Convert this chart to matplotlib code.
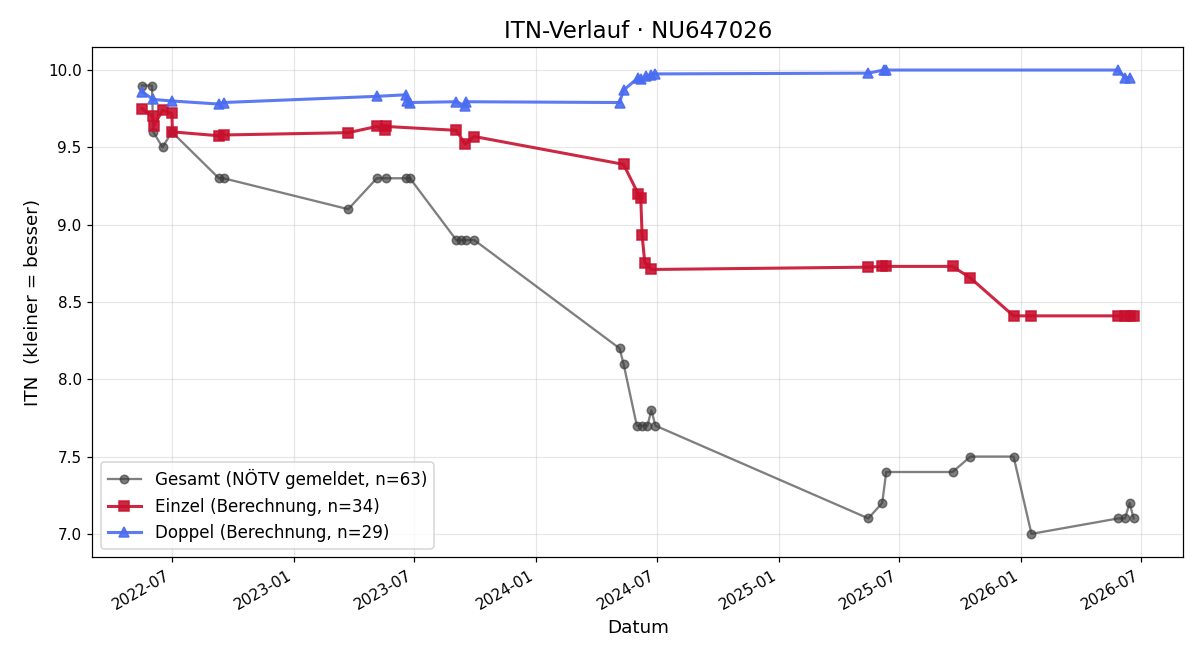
import pandas as pd
import matplotlib
matplotlib.use('Agg')
import matplotlib.pyplot as plt
import matplotlib.dates as mdates

# Gesamt (NÖTV gemeldet)
gesamt_dates = ['2022-05-17', '2022-06-01', '2022-06-03', '2022-06-17', '2022-07-01',
                '2022-09-10', '2022-09-17', '2023-03-24', '2023-05-06', '2023-05-20',
                '2023-06-19', '2023-06-25', '2023-09-03', '2023-09-10', '2023-09-17',
                '2023-09-30', '2024-05-06', '2024-05-12', '2024-06-01', '2024-06-09',
                '2024-06-17', '2024-06-23', '2024-06-29', '2025-05-16', '2025-06-06',
                '2025-06-12', '2025-09-20', '2025-10-17', '2025-12-21', '2026-01-17',
                '2026-05-28', '2026-06-07', '2026-06-14', '2026-06-20']
gesamt_itn = [9.9, 9.9, 9.6, 9.5, 9.6,
              9.3, 9.3, 9.1, 9.3, 9.3,
              9.3, 9.3, 8.9, 8.9, 8.9,
              8.9, 8.2, 8.1, 7.7, 7.7,
              7.7, 7.8, 7.7, 7.1, 7.2,
              7.4, 7.4, 7.5, 7.5, 7.0,
              7.1, 7.1, 7.2, 7.1]

# Einzel (Berechnung)
einzel_dates = ['2022-05-17', '2022-06-02', '2022-06-04', '2022-06-17', '2022-07-01',
                '2022-07-02', '2022-09-10', '2022-09-17', '2023-03-24', '2023-05-06',
                '2023-05-19', '2023-05-20', '2023-09-03', '2023-09-16', '2023-09-30',
                '2024-05-12', '2024-06-03', '2024-06-07', '2024-06-09', '2024-06-13',
                '2024-06-23', '2025-05-15', '2025-06-06', '2025-06-12', '2025-09-20',
                '2025-10-17', '2025-12-21', '2026-01-17', '2026-05-28', '2026-06-07',
                '2026-06-14', '2026-06-20']
einzel_itn = [9.75, 9.70, 9.64, 9.74, 9.72,
              9.60, 9.575, 9.58, 9.595, 9.635,
              9.61, 9.635, 9.61, 9.52, 9.57,
              9.39, 9.20, 9.17, 8.93, 8.755,
              8.71, 8.725, 8.73, 8.73, 8.73,
              8.655, 8.41, 8.41, 8.41, 8.41,
              8.41, 8.41]

# Doppel (Berechnung)
doppel_dates = ['2022-05-17', '2022-06-03', '2022-07-01', '2022-09-10', '2022-09-17',
                '2023-05-06', '2023-06-19', '2023-06-20', '2023-06-25', '2023-09-03',
                '2023-09-16', '2023-09-17', '2024-05-06', '2024-05-12', '2024-06-03',
                '2024-06-08', '2024-06-15', '2024-06-23', '2024-06-29', '2025-05-16',
                '2025-06-08', '2025-06-12', '2026-05-28', '2026-06-07', '2026-06-14']
doppel_itn = [9.86, 9.81, 9.80, 9.78, 9.79,
              9.83, 9.84, 9.80, 9.79, 9.795,
              9.77, 9.795, 9.79, 9.87, 9.95,
              9.94, 9.96, 9.97, 9.975, 9.98,
              10.0, 10.0, 10.0, 9.95, 9.95]

fig, ax = plt.subplots(figsize=(1200 / 110, 6.0), dpi=110)

ax.plot(pd.to_datetime(gesamt_dates), gesamt_itn, marker='o', markersize=5.5,
        linewidth=1.5, color='#3a3a3a', alpha=0.65,
        label='Gesamt (NÖTV gemeldet, n=63)')
ax.plot(pd.to_datetime(einzel_dates), einzel_itn, marker='s', markersize=7,
        linewidth=2, color='#c8102e', alpha=0.9,
        label='Einzel (Berechnung, n=34)')
ax.plot(pd.to_datetime(doppel_dates), doppel_itn, marker='^', markersize=7,
        linewidth=2, color='#4a6cf0', alpha=0.9,
        label='Doppel (Berechnung, n=29)')

ax.set_title('ITN-Verlauf · NU647026', fontsize=15)
ax.set_xlabel('Datum', fontsize=12)
ax.set_ylabel('ITN  (kleiner = besser)', fontsize=12)
ax.tick_params(labelsize=10)
ax.grid(True, alpha=0.3)
ax.xaxis.set_major_formatter(mdates.DateFormatter('%Y-%m'))
ax.legend(loc='lower left', fontsize=11)
fig.autofmt_xdate()

fig.subplots_adjust(left=0.077, right=0.986, top=0.929, bottom=0.156)
plt.savefig('out.png')
